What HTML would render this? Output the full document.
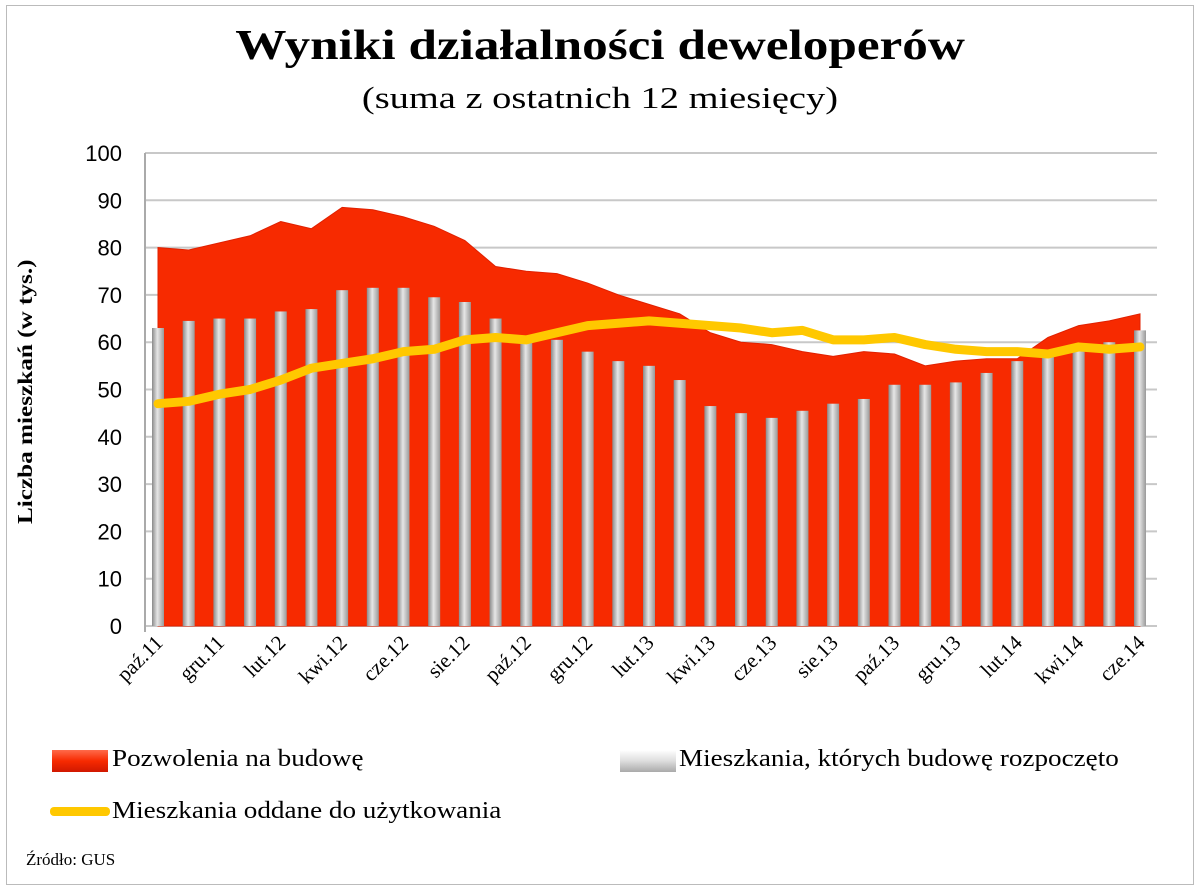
<!DOCTYPE html>
<html><head><meta charset="utf-8"><style>
body{margin:0;background:#fff;width:1200px;height:891px;overflow:hidden;font-family:"Liberation Serif",serif}
#frame{position:absolute;left:6px;top:5px;width:1186px;height:878px;border:1px solid #bbb}
.t{position:absolute;left:0;width:1200px;text-align:center}
.t span{display:inline-block}
</style></head><body>
<div id="frame"></div>
<div class="t" style="top:22px;font-size:42px;font-weight:bold"><span style="transform:scaleX(1.22)">Wyniki działalności deweloperów</span></div>
<div class="t" style="top:80px;font-size:31px"><span style="transform:scaleX(1.24)">(suma z ostatnich 12 miesięcy)</span></div>
<svg id="c" width="1200" height="891" style="position:absolute;left:0;top:0">
<defs>
<linearGradient id="bg" x1="0" x2="1"><stop offset="0" stop-color="#8a8a8a"/><stop offset="0.45" stop-color="#e6e6e6"/><stop offset="1" stop-color="#999"/></linearGradient>
</defs>
</svg>
<script>
const months=["paź.11","lis.11","gru.11","sty.12","lut.12","mar.12","kwi.12","maj.12","cze.12","lip.12","sie.12","wrz.12","paź.12","lis.12","gru.12","sty.13","lut.13","mar.13","kwi.13","maj.13","cze.13","lip.13","sie.13","wrz.13","paź.13","lis.13","gru.13","sty.14","lut.14","mar.14","kwi.14","maj.14","cze.14"];
const permits=[80,79.5,81,82.5,85.5,84,88.5,88,86.5,84.5,81.5,76,75,74.5,72.5,70,68,66,62,60,59.5,58,57,58,57.5,55,56,56.5,56.5,61,63.5,64.5,66];
const started=[63,64.5,65,65,66.5,67,71,71.5,71.5,69.5,68.5,65,61,60.5,58,56,55,52,46.5,45,44,45.5,47,48,51,51,51.5,53.5,56,58,59,60,62.5];
const completed=[47,47.5,49,50,52,54.5,55.5,56.5,58,58.5,60.5,61,60.5,62,63.5,64,64.5,64,63.5,63,62,62.5,60.5,60.5,61,59.5,58.5,58,58,57.5,59,58.5,59];
const yTicks=[0,10,20,30,40,50,60,70,80,90,100];
const NS="http://www.w3.org/2000/svg",svg=document.getElementById('c');
const x0=158,dx=(1140-158)/32,yB=626,ky=4.73;
const X=i=>x0+i*dx, Y=v=>yB-v*ky;
function mk(t,a,p){const e=document.createElementNS(NS,t);for(const k in a)e.setAttribute(k,a[k]);(p||svg).appendChild(e);return e;}
yTicks.forEach(v=>{
 const g=mk('line',{x1:145,x2:1157,y1:Y(v),y2:Y(v),stroke:'#c8c8c8','stroke-width':2});
 
 
 const t=mk('text',{x:122,y:Y(v)+8,'text-anchor':'end','font-size':22,'font-family':'Liberation Sans, sans-serif'});
 t.textContent=v;
 
 
});
mk('line',{x1:145,x2:145,y1:Y(100),y2:yB+6,stroke:'#aaa','stroke-width':2});
let d='M'+X(0)+','+yB;
permits.forEach((v,i)=>d+=' L'+X(i)+','+Y(v));
d+=' L'+X(permits.length-1)+','+yB+'Z';
const area=mk('path',{d:d,fill:'#f72a00',stroke:'#e02000','stroke-width':1});


started.forEach((v,i)=>{
 const r=mk('rect',{x:X(i)-6,y:Y(v),width:12,height:yB-Y(v),fill:'url(#bg)'});
 
 
});
let pd='';
completed.forEach((v,i)=>pd+=(i?' L':'M')+X(i)+','+Y(v));
const ln=mk('path',{d:pd,fill:'none',stroke:'#ffc800','stroke-width':9,'stroke-linejoin':'round','stroke-linecap':'round'});


months.forEach((m,i)=>{
 if(i%2)return;
 const t=mk('text',{transform:`translate(${X(i)+6},${yB+18}) rotate(-45)`,'text-anchor':'end','font-size':21});
 t.textContent=m;
 
 
});
</script>
<div style="position:absolute;left:26px;top:392px;transform:rotate(-90deg);width:0;height:0"><div style="position:absolute;left:-150px;top:-13px;width:300px;text-align:center;font-size:21px;font-weight:bold;white-space:nowrap"><span style="display:inline-block;transform:scaleX(1.2)">Liczba mieszkań (w tys.)</span></div></div>
<div style="position:absolute;left:52px;top:750px;width:56px;height:22px;background:linear-gradient(#ff6a4a,#f72a00 50%,#d01800)"></div>
<div style="position:absolute;left:112px;top:746px;font-size:24px;transform:scaleX(1.13);transform-origin:left">Pozwolenia na budowę</div>
<div style="position:absolute;left:620px;top:750px;width:56px;height:22px;background:linear-gradient(#fff,#ddd 50%,#aaa)"></div>
<div style="position:absolute;left:679px;top:746px;font-size:24px;transform:scaleX(1.13);transform-origin:left">Mieszkania, których budowę rozpoczęto</div>
<div style="position:absolute;left:50px;top:807px;width:60px;height:9px;background:#ffc800;border-radius:4px"></div>
<div style="position:absolute;left:112px;top:798px;font-size:24px;transform:scaleX(1.13);transform-origin:left">Mieszkania oddane do użytkowania</div>
<div style="position:absolute;left:26px;top:850px;font-size:17px">Źródło: GUS</div>
</body></html>
